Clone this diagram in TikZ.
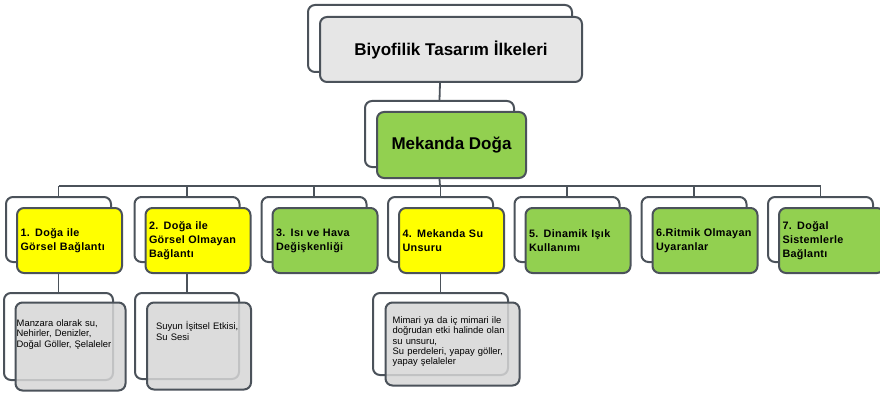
\documentclass[tikz,border=0pt]{standalone}
\usepackage{fontspec}
\setmainfont{Liberation Sans}
\newfontfamily\boxfont[LetterSpace=3]{Liberation Sans}
\usetikzlibrary{calc,positioning}
\definecolor{FrameGrey}{HTML}{4B525A}
\definecolor{TitleGrey}{HTML}{E6E6E6}
\definecolor{LeafGreen}{HTML}{92D050}
\definecolor{SunYellow}{HTML}{FFFF00}
\definecolor{NoteGrey}{HTML}{D6D6D6}
\hyphenpenalty=10000

\begin{document}
\begin{tikzpicture}[x=1pt,y=-1pt,
    backbox/.style={draw=FrameGrey,line width=2pt,rounded corners=7pt,fill=white,inner sep=0pt},
    frontbox/.style={backbox},
    notebox/.style={backbox,fill=NoteGrey,fill opacity=0.85},
    notetext/.style={inner sep=0pt,text width=125pt,align=left,font=\fontsize{9.4}{10.3}\selectfont},
    link/.style={draw=FrameGrey,line width=1.8pt}
  ]
  \useasboundingbox (0,0) rectangle (880,393);

  % top of the tree
  \node[backbox,minimum width=264pt,minimum height=67pt] (titleb) at (440,38.5) {};
  \node[frontbox,fill=TitleGrey,minimum width=262pt,minimum height=65pt,
        font=\fontsize{17}{20}\selectfont\bfseries] (titlef) at ([shift={(11,11)}]titleb.center) {Biyofilik Tasarım İlkeleri};

  \node[backbox,minimum width=149pt,minimum height=66pt] (mekb) at (439.5,134) {};
  \node[frontbox,fill=LeafGreen,minimum width=149pt,minimum height=66pt,
        font=\fontsize{17}{20}\selectfont\bfseries] (mekf) at ([shift={(12,11)}]mekb.center) {Mekanda Doğa};

  % seven principles
  \foreach \x/\col/\txt [count=\i] in {
      58.5/SunYellow/{1. Doğa ile\\Görsel Bağlantı},
      187/SunYellow/{2. Doğa ile\\Görsel Olmayan\\Bağlantı},
      314/LeafGreen/{3. Isı ve Hava\\Değişkenliği},
      440.5/SunYellow/{4. Mekanda Su\\Unsuru},
      567/LeafGreen/{5. Dinamik Işık\\Kullanımı},
      694/LeafGreen/{6.Ritmik Olmayan\\Uyaranlar},
      820.5/LeafGreen/{7. Doğal\\Sistemlerle\\Bağlantı}} {
    \node[backbox,minimum width=105pt,minimum height=65pt] (b\i) at (\x,229.5) {};
    \node[frontbox,fill=\col,minimum width=105pt,minimum height=65pt,text width=98pt,inner xsep=3.5pt,align=left,
          font=\boxfont\fontsize{10.8}{14}\selectfont\bfseries] (f\i) at ([shift={(11,11)}]b\i.center) {\txt};
  }

  % notes under 1, 2 and 4
  \node[backbox,minimum width=109pt,minimum height=87pt] (n1) at (58.5,336.5) {};
  \node[notebox,minimum width=110pt,minimum height=88pt] (m1) at ([shift={(12,10)}]n1.center) {};
  \node[notetext,anchor=north west] (t1) at ([shift={(2,18)}]m1.north west) {Manzara olarak su,\\Nehirler, Denizler,\\Doğal Göller, Şelaleler};

  \node[backbox,minimum width=104pt,minimum height=86pt] (n2) at (187,336) {};
  \node[notebox,minimum width=104pt,minimum height=87pt] (m2) at ([shift={(12,10)}]n2.center) {};
  \node[notetext,anchor=north west] (t2) at ([shift={(10,20)}]m2.north west) {Suyun İşitsel Etkisi,\\Su Sesi};

  \node[backbox,minimum width=135pt,minimum height=82pt] (n3) at (440.5,334) {};
  \node[notebox,minimum width=134pt,minimum height=83pt] (m3) at ([shift={(12,10)}]n3.center) {};
  \node[notetext,anchor=north west] (t3) at ([shift={(8,15)}]m3.north west) {Mimari ya da iç mimari ile\\doğrudan etki halinde olan\\su unsuru,\\Su perdeleri, yapay göller,\\yapay şelaleler};

  % connectors
  \coordinate (bus) at (440,186);
  \draw[link] (titlef.south -| titleb.south) -- (mekb.north);
  \draw[link] (mekf.south -| mekb.south) -- (bus);
  \draw[link] (bus -| b1.north) -- (bus -| b7.north);
  \foreach \i in {1,...,7}
    \draw[link] (bus -| b\i.north) -- (b\i.north);
  \draw[link] (f1.south -| b1.south) -- (n1.north);
  \draw[link] (f2.south -| b2.south) -- (n2.north);
  \draw[link] (f4.south -| b4.south) -- (n3.north);
\end{tikzpicture}
\end{document}
